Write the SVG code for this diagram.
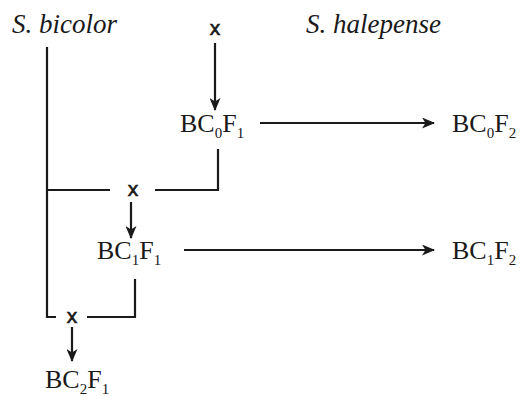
<svg xmlns="http://www.w3.org/2000/svg" width="521" height="396" viewBox="0 0 521 396">
<style>
.t{font-family:"Liberation Serif","Times New Roman",serif;font-size:26px;fill:#1a1a1a}
.s{font-size:15px}
.i{font-family:"Liberation Serif","Times New Roman",serif;font-size:27px;font-style:italic;fill:#1a1a1a}
.x{font-family:"Liberation Sans",Arial,sans-serif;font-size:21px;fill:#1a1a1a;stroke:#1a1a1a;stroke-width:0.6;text-anchor:middle}
.l{fill:none;stroke:#1a1a1a;stroke-width:2.2}
</style>
<defs>
<marker id="ah" viewBox="0 0 13 11" refX="12" refY="5.5" markerWidth="13" markerHeight="11" markerUnits="userSpaceOnUse" orient="auto">
<path d="M0,0 L13,5.5 L0,11 L3.5,5.5 Z" fill="#1a1a1a"/>
</marker>
</defs>
<rect width="521" height="396" fill="#fff"/>
<g id="parents">
<text class="i" x="12" y="33">S. bicolor</text>
<text class="i" x="306" y="33">S. halepense</text>
<text class="x" x="215" y="35">x</text>
</g>
<g id="connectors">
<line class="l" x1="215" y1="43" x2="215" y2="110" marker-end="url(#ah)"/>
<line class="l" x1="260" y1="123" x2="434" y2="123" marker-end="url(#ah)"/>
<polyline class="l" points="47,47 47,317 56,317"/>
<line class="l" x1="47" y1="190" x2="110" y2="190"/>
<polyline class="l" points="155,190 218,190 218,149"/>
<line class="l" x1="131" y1="202" x2="131" y2="238" marker-end="url(#ah)"/>
<line class="l" x1="184" y1="250" x2="434" y2="250" marker-end="url(#ah)"/>
<polyline class="l" points="135,279 135,317 87,317"/>
<line class="l" x1="72" y1="327" x2="72" y2="361" marker-end="url(#ah)"/>
</g>
<g id="bc0f1"><text class="t" x="180" y="132">BC<tspan class="s" dy="6">0</tspan><tspan dy="-6">F</tspan><tspan class="s" dy="6">1</tspan></text></g>
<g id="bc0f2"><text class="t" x="452" y="132">BC<tspan class="s" dy="6">0</tspan><tspan dy="-6">F</tspan><tspan class="s" dy="6">2</tspan></text></g>
<g id="cross1"><text class="x" x="133" y="196">x</text></g>
<g id="bc1f1"><text class="t" x="97" y="259">BC<tspan class="s" dy="6">1</tspan><tspan dy="-6">F</tspan><tspan class="s" dy="6">1</tspan></text></g>
<g id="bc1f2"><text class="t" x="452" y="259">BC<tspan class="s" dy="6">1</tspan><tspan dy="-6">F</tspan><tspan class="s" dy="6">2</tspan></text></g>
<g id="cross2"><text class="x" x="72" y="323">x</text></g>
<g id="bc2f1"><text class="t" x="45" y="388">BC<tspan class="s" dy="6">2</tspan><tspan dy="-6">F</tspan><tspan class="s" dy="6">1</tspan></text></g>
</svg>
